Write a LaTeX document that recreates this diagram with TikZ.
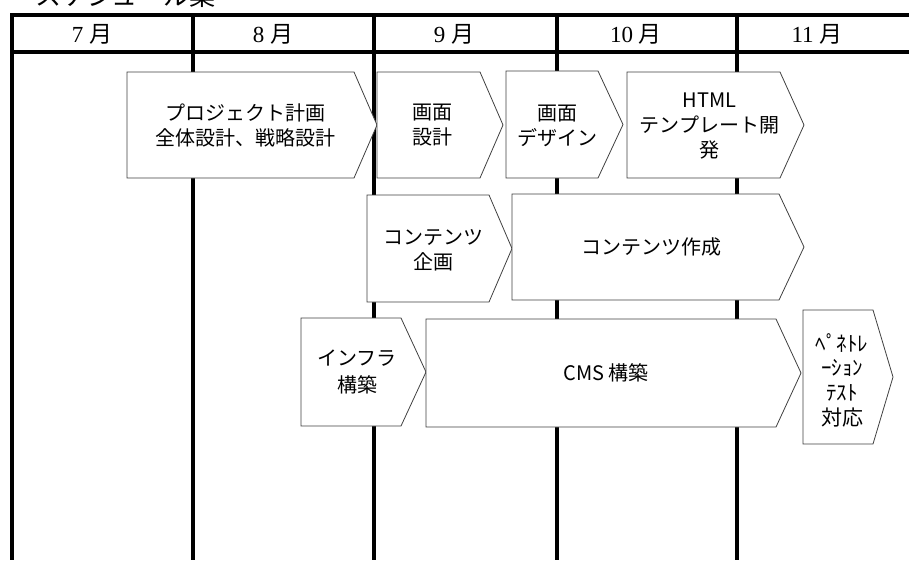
\documentclass[tikz,border=0pt]{standalone}
\usepackage{fontspec}
\newfontfamily\cjk{Noto Sans CJK JP}
\newfontfamily\serifd{Liberation Serif}
\tikzset{
  gridline/.style={line width=3.8pt, black},
  taskbox/.style={draw=black!75, line width=0.8pt, fill=white},
  tasktext/.style={font=\cjk\fontsize{20}{25}\selectfont, align=center, inner sep=0pt},
  monthlabel/.style={font=\fontsize{23}{23}\selectfont, inner sep=0pt},
}
\newcommand\taskshape[5]{% left, corner, point, top, bottom
  \draw[taskbox] (#1,#4) -- (#2,#4) -- (#3,{(#4+#5)/2}) -- (#2,#5) -- (#1,#5) -- cycle;}
\begin{document}
\begin{tikzpicture}[x=1pt,y=-1pt]
\useasboundingbox (0,0) rectangle (909,560);
% title (cut off at the top, as in the reference)
\node[font=\cjk\fontsize{26}{26}\selectfont, anchor=base west, inner sep=0pt] (title) at (35,5) {スケジュール案};
% grid
\draw[gridline] (10.1,15) -- (909,15);
\draw[gridline] (10.1,52) -- (909,52);
\foreach \x in {12,193,374,557,737}{
  \draw[gridline] (\x,13.1) -- (\x,560);
}
% month labels
\node[monthlabel] (m7) at (92,34) {\serifd 7 \cjk 月};
\node[monthlabel] (m8) at (273,34) {\serifd 8 \cjk 月};
\node[monthlabel] (m9) at (454,34) {\serifd 9 \cjk 月};
\node[monthlabel] (m10) at (636,34) {\serifd 10 \cjk 月};
\node[monthlabel] (m11) at (817,34) {\serifd 11 \cjk 月};
% row 1
\taskshape{127}{354}{377}{72}{178}
\node[tasktext] (t1) at (245,125.5) {プロジェクト計画\\全体設計、戦略設計};
\taskshape{377}{480}{503}{72}{178}
\node[tasktext] (t2) at (432,125.5) {画面\\設計};
\taskshape{506}{598}{623}{71}{178}
\node[tasktext] (t3) at (557,125.5) {画面\\デザイン};
\taskshape{627}{780}{804}{72}{178}
\node[tasktext] (t4) at (709.5,126) {HTML\\テンプレート開\\発};
% row 2
\taskshape{367}{489}{512}{195}{302}
\node[tasktext] (t5) at (433,250) {コンテンツ\\企画};
\taskshape{512}{779}{804}{194}{300}
\node[tasktext] (t6) at (651,247) {コンテンツ作成};
% row 3
\taskshape{301}{401}{426}{318}{426}
\node[tasktext, font=\cjk\fontsize{20}{27}\selectfont] (t7) at (357,372) {インフラ\\構築};
\taskshape{426}{776}{801}{319}{427}
\node[tasktext] (t8) at (606,373) {CMS 構築};
\taskshape{803}{873}{893}{310}{444}
\node[tasktext, font=\cjk\fontsize{21}{24.7}\selectfont] (t9) at (842,380) {ﾍﾟﾈﾄﾚ\\ｰｼｮﾝ\\ﾃｽﾄ\\対応};
\end{tikzpicture}
\end{document}
